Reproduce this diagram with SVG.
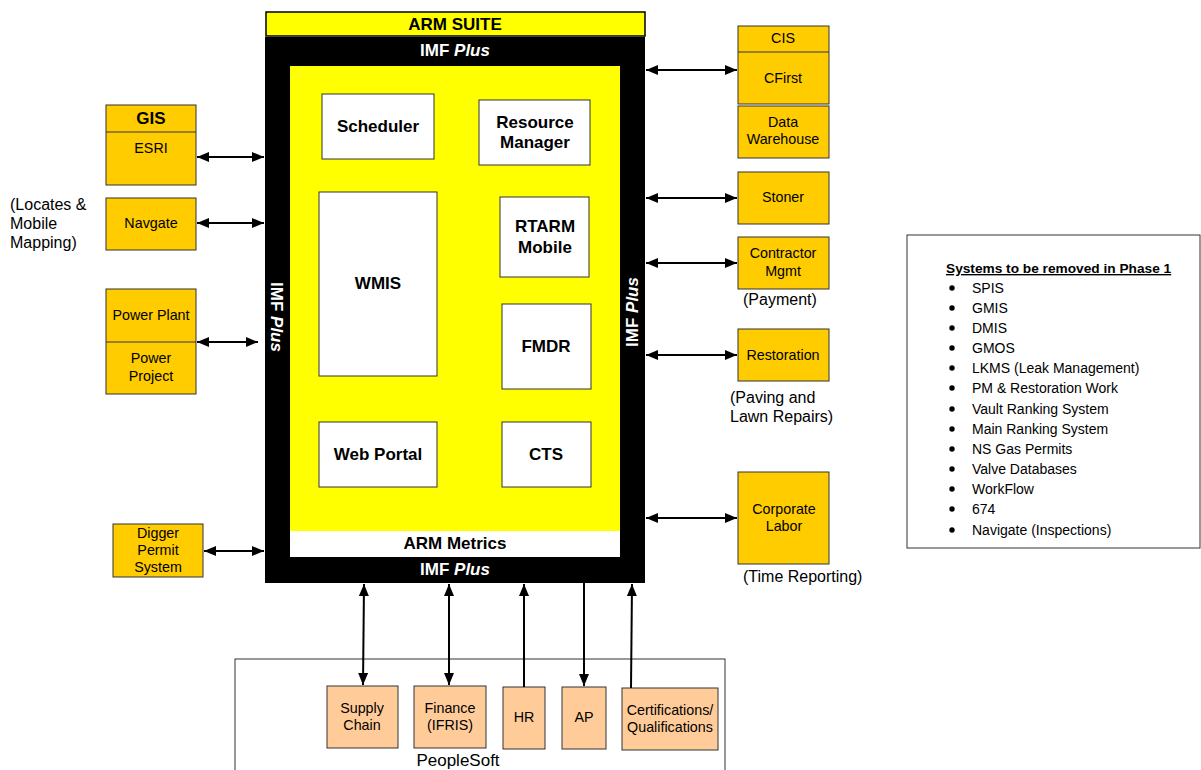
<svg xmlns="http://www.w3.org/2000/svg" width="1201" height="770" viewBox="0 0 1201 770">
<defs>
<marker id="ah" viewBox="0 0 12 10" refX="12" refY="5" markerWidth="12" markerHeight="10" markerUnits="userSpaceOnUse" orient="auto-start-reverse">
<path d="M0,0 L12,5 L0,10 z" fill="#000"/>
</marker>
<style>
text{font-family:"Liberation Sans",Arial,sans-serif;}
.ext{fill:#FFCC00;stroke:#333;stroke-width:1;}
.ps{fill:#FFCC99;stroke:#333;stroke-width:1;}
.in{fill:#fff;stroke:#333;stroke-width:1;}
.t{font-size:14.3px;fill:#000;text-anchor:middle;}
.tl{font-size:16px;fill:#000;}
.b{font-size:17px;font-weight:bold;fill:#000;text-anchor:middle;}
.w{font-size:17px;font-weight:bold;fill:#fff;text-anchor:middle;}
.c{stroke:#000;stroke-width:2;fill:none;}
.li{font-size:14px;fill:#000;}
</style>
</defs>
<rect width="1201" height="770" fill="#fff"/>

<g id="arm-suite">
<rect x="265" y="37" width="380" height="546" fill="#000"/>
<rect x="266" y="12" width="379" height="24" fill="#FFFF00" stroke="#000" stroke-width="1.5"/>
<text class="b" x="455" y="30">ARM SUITE</text>
<rect x="290" y="66" width="330" height="465" fill="#FFFF00"/>
<rect x="290" y="531" width="330" height="26" fill="#fff"/>
<text class="b" x="455" y="549">ARM Metrics</text>
<text class="w" x="455" y="56">IMF <tspan font-style="italic">Plus</tspan></text>
<text class="w" x="455" y="575">IMF <tspan font-style="italic">Plus</tspan></text>
<text class="w" transform="translate(271,317) rotate(90)">IMF <tspan font-style="italic">Plus</tspan></text>
<text class="w" transform="translate(638,312) rotate(-90)">IMF <tspan font-style="italic">Plus</tspan></text>
</g>

<g id="scheduler"><rect class="in" x="322" y="94" width="112" height="65"/><text class="b" x="378" y="132">Scheduler</text></g>
<g id="resource-manager"><rect class="in" x="479" y="100" width="111" height="65"/><text class="b" x="535" y="128">Resource</text><text class="b" x="535" y="148">Manager</text></g>
<g id="wmis"><rect class="in" x="319" y="192" width="118" height="184"/><text class="b" x="378" y="289">WMIS</text></g>
<g id="rtarm"><rect class="in" x="500" y="197" width="89" height="80"/><text class="b" x="545" y="232">RTARM</text><text class="b" x="545" y="253">Mobile</text></g>
<g id="fmdr"><rect class="in" x="502" y="304" width="89" height="85"/><text class="b" x="546" y="352">FMDR</text></g>
<g id="web-portal"><rect class="in" x="319" y="422" width="118" height="65"/><text class="b" x="378" y="460">Web Portal</text></g>
<g id="cts"><rect class="in" x="502" y="422" width="89" height="65"/><text class="b" x="546" y="460">CTS</text></g>

<g id="gis"><rect class="ext" x="106" y="105" width="90" height="80"/><line x1="106" y1="132" x2="196" y2="132" stroke="#333"/><text class="b" x="151" y="124">GIS</text><text class="t" x="151" y="153">ESRI</text></g>
<g id="navgate"><rect class="ext" x="106" y="198" width="90" height="52"/><text class="t" x="151" y="228">Navgate</text></g>
<g id="locates-label"><text class="tl" x="10" y="210">(Locates &amp;</text><text class="tl" x="10" y="229">Mobile</text><text class="tl" x="10" y="248">Mapping)</text></g>
<g id="power"><rect class="ext" x="106" y="289" width="90" height="105"/><line x1="106" y1="342" x2="196" y2="342" stroke="#333"/><text class="t" x="151" y="320">Power Plant</text><text class="t" x="151" y="363">Power</text><text class="t" x="151" y="381">Project</text></g>
<g id="digger"><rect class="ext" x="113" y="524" width="90" height="53"/><text class="t" x="158" y="538">Digger</text><text class="t" x="158" y="555">Permit</text><text class="t" x="158" y="572">System</text></g>

<g id="cis"><rect class="ext" x="738" y="26" width="91" height="78"/><line x1="738" y1="52" x2="829" y2="52" stroke="#333"/><text class="t" x="783" y="43">CIS</text><text class="t" x="783" y="83">CFirst</text></g>
<g id="data-warehouse"><rect class="ext" x="738" y="106" width="91" height="52"/><text class="t" x="783" y="127">Data</text><text class="t" x="783" y="144">Warehouse</text></g>
<g id="stoner"><rect class="ext" x="738" y="172" width="91" height="52"/><text class="t" x="783" y="202">Stoner</text></g>
<g id="contractor"><rect class="ext" x="738" y="237" width="91" height="52"/><text class="t" x="783" y="258">Contractor</text><text class="t" x="783" y="276">Mgmt</text><text class="tl" x="743" y="305">(Payment)</text></g>
<g id="restoration"><rect class="ext" x="738" y="329" width="91" height="52"/><text class="t" x="783" y="360">Restoration</text><text class="tl" x="730" y="403">(Paving and</text><text class="tl" x="730" y="422">Lawn Repairs)</text></g>
<g id="corporate-labor"><rect class="ext" x="738" y="472" width="91" height="92"/><text class="t" x="784" y="514">Corporate</text><text class="t" x="784" y="531">Labor</text><text class="tl" x="743" y="582">(Time Reporting)</text></g>

<g id="peoplesoft">
<rect x="235" y="659" width="490" height="120" fill="none" stroke="#333" stroke-width="1"/>
<text x="458" y="766" font-size="17" text-anchor="middle">PeopleSoft</text>
</g>
<g id="supply-chain"><rect class="ps" x="327" y="686" width="71" height="62"/><text class="t" x="362" y="713">Supply</text><text class="t" x="362" y="730">Chain</text></g>
<g id="finance"><rect class="ps" x="414" y="686" width="72" height="62"/><text class="t" x="450" y="713">Finance</text><text class="t" x="450" y="730">(IFRIS)</text></g>
<g id="hr"><rect class="ps" x="503" y="687" width="42" height="62"/><text class="t" x="524" y="722">HR</text></g>
<g id="ap"><rect class="ps" x="562" y="687" width="44" height="62"/><text class="t" x="584" y="722">AP</text></g>
<g id="certifications"><rect class="ps" x="622" y="688" width="96" height="62"/><text class="t" x="670" y="715">Certifications/</text><text class="t" x="670" y="732">Qualifications</text></g>

<g id="legend">
<rect x="907" y="235" width="293" height="313" fill="#fff" stroke="#333" stroke-width="1"/>
<text x="946" y="273" font-size="13.7" font-weight="bold" text-decoration="underline">Systems to be removed in Phase 1</text>
<g fill="#000">
<circle cx="952" cy="288" r="2.7"/><circle cx="952" cy="308" r="2.7"/><circle cx="952" cy="328" r="2.7"/><circle cx="952" cy="348" r="2.7"/><circle cx="952" cy="368" r="2.7"/><circle cx="952" cy="388" r="2.7"/><circle cx="952" cy="409" r="2.7"/><circle cx="952" cy="429" r="2.7"/><circle cx="952" cy="449" r="2.7"/><circle cx="952" cy="469" r="2.7"/><circle cx="952" cy="489" r="2.7"/><circle cx="952" cy="509" r="2.7"/><circle cx="952" cy="530" r="2.7"/>
</g>
<g class="li">
<text x="972" y="293">SPIS</text>
<text x="972" y="313">GMIS</text>
<text x="972" y="333">DMIS</text>
<text x="972" y="353">GMOS</text>
<text x="972" y="373">LKMS (Leak Management)</text>
<text x="972" y="393">PM &amp; Restoration Work</text>
<text x="972" y="414">Vault Ranking System</text>
<text x="972" y="434">Main Ranking System</text>
<text x="972" y="454">NS Gas Permits</text>
<text x="972" y="474">Valve Databases</text>
<text x="972" y="494">WorkFlow</text>
<text x="972" y="514">674</text>
<text x="972" y="535">Navigate (Inspections)</text>
</g>
</g>

<g id="connectors">
<line class="c" x1="197" y1="157" x2="264" y2="157" marker-start="url(#ah)" marker-end="url(#ah)"/>
<line class="c" x1="197" y1="223" x2="264" y2="223" marker-start="url(#ah)" marker-end="url(#ah)"/>
<line class="c" x1="197" y1="342" x2="258" y2="342" marker-start="url(#ah)" marker-end="url(#ah)"/>
<line class="c" x1="204" y1="551" x2="264" y2="551" marker-start="url(#ah)" marker-end="url(#ah)"/>
<line class="c" x1="646" y1="70" x2="737" y2="70" marker-start="url(#ah)" marker-end="url(#ah)"/>
<line class="c" x1="646" y1="198" x2="737" y2="198" marker-start="url(#ah)" marker-end="url(#ah)"/>
<line class="c" x1="646" y1="263" x2="737" y2="263" marker-start="url(#ah)" marker-end="url(#ah)"/>
<line class="c" x1="646" y1="355" x2="737" y2="355" marker-start="url(#ah)" marker-end="url(#ah)"/>
<line class="c" x1="646" y1="518" x2="737" y2="518" marker-start="url(#ah)" marker-end="url(#ah)"/>
<line class="c" x1="364" y1="584" x2="363" y2="685" marker-start="url(#ah)" marker-end="url(#ah)"/>
<line class="c" x1="449" y1="584" x2="449" y2="685" marker-start="url(#ah)" marker-end="url(#ah)"/>
<line class="c" x1="524" y1="687" x2="524" y2="584" marker-end="url(#ah)"/>
<line class="c" x1="584" y1="583" x2="584" y2="686" marker-end="url(#ah)"/>
<line class="c" x1="631" y1="688" x2="632" y2="584" marker-end="url(#ah)"/>
</g>
</svg>
